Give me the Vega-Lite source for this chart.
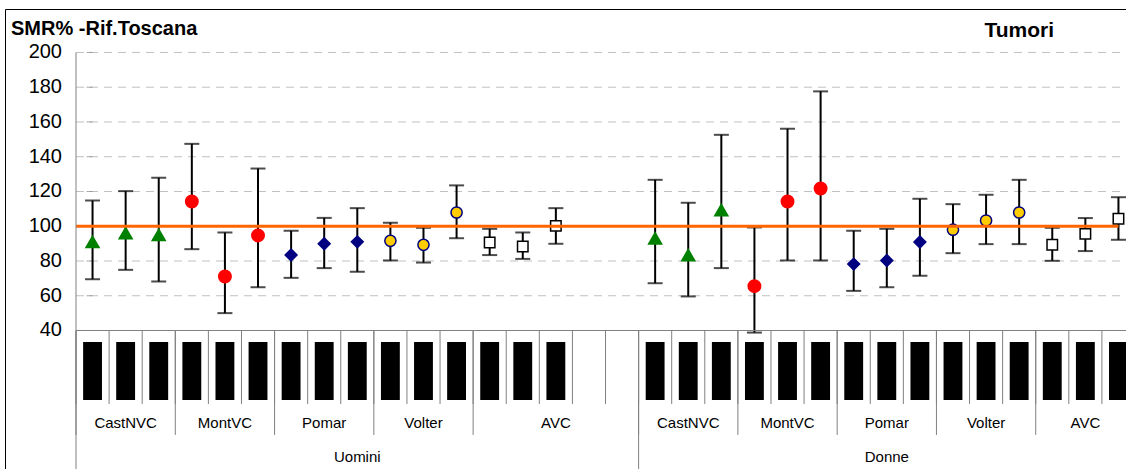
{
  "$schema": "https://vega.github.io/schema/vega-lite/v6.json",
  "width": 1121,
  "height": 460,
  "autosize": "none",
  "padding": {"left": 5, "top": 9, "right": 0, "bottom": 0},
  "background": "#ffffff",
  "config": {
    "view": {"stroke": "#000000", "strokeWidth": 1},
    "font": "Liberation Sans"
  },
  "title": {
    "text": "SMR% -Rif.Toscana",
    "anchor": "start",
    "frame": "group",
    "orient": "top",
    "offset": -46,
    "dx": 6,
    "baseline": "alphabetic",
    "font": "Liberation Sans",
    "fontSize": 20,
    "fontWeight": "bold",
    "color": "#000000"
  },
  "datasets": {
    "smr": [
      {"key": "U-CastNVC-1", "sex": "Uomini", "area": "CastNVC", "period": 1, "smr": 91, "lo": 69.5, "hi": 114.8},
      {"key": "U-CastNVC-2", "sex": "Uomini", "area": "CastNVC", "period": 2, "smr": 96, "lo": 74.9, "hi": 120.2},
      {"key": "U-CastNVC-3", "sex": "Uomini", "area": "CastNVC", "period": 3, "smr": 95, "lo": 68.2, "hi": 127.9},
      {"key": "U-MontVC-1", "sex": "Uomini", "area": "MontVC", "period": 1, "smr": 114.2, "lo": 86.8, "hi": 147.4},
      {"key": "U-MontVC-2", "sex": "Uomini", "area": "MontVC", "period": 2, "smr": 71.1, "lo": 50, "hi": 96.4},
      {"key": "U-MontVC-3", "sex": "Uomini", "area": "MontVC", "period": 3, "smr": 94.7, "lo": 64.9, "hi": 133.2},
      {"key": "U-Pomar-1", "sex": "Uomini", "area": "Pomar", "period": 1, "smr": 83.4, "lo": 70.3, "hi": 97.4},
      {"key": "U-Pomar-2", "sex": "Uomini", "area": "Pomar", "period": 2, "smr": 89.9, "lo": 75.9, "hi": 104.8},
      {"key": "U-Pomar-3", "sex": "Uomini", "area": "Pomar", "period": 3, "smr": 91, "lo": 73.8, "hi": 110.4},
      {"key": "U-Volter-1", "sex": "Uomini", "area": "Volter", "period": 1, "smr": 91.6, "lo": 80.3, "hi": 102},
      {"key": "U-Volter-2", "sex": "Uomini", "area": "Volter", "period": 2, "smr": 89.3, "lo": 79.1, "hi": 99.1},
      {"key": "U-Volter-3", "sex": "Uomini", "area": "Volter", "period": 3, "smr": 107.9, "lo": 93.1, "hi": 123.5},
      {"key": "U-AVC-1", "sex": "Uomini", "area": "AVC", "period": 1, "smr": 90.6, "lo": 83.4, "hi": 98.5},
      {"key": "U-AVC-2", "sex": "Uomini", "area": "AVC", "period": 2, "smr": 88.3, "lo": 81.2, "hi": 96.4},
      {"key": "U-AVC-3", "sex": "Uomini", "area": "AVC", "period": 3, "smr": 100.2, "lo": 89.9, "hi": 110.4},
      {"key": "U-AVC-4", "sex": "Uomini", "area": "AVC", "period": 4, "smr": null, "lo": null, "hi": null},
      {"key": "U-AVC-5", "sex": "Uomini", "area": "AVC", "period": 5, "smr": null, "lo": null, "hi": null},
      {"key": "D-CastNVC-1", "sex": "Donne", "area": "CastNVC", "period": 1, "smr": 93, "lo": 67.2, "hi": 126.7},
      {"key": "D-CastNVC-2", "sex": "Donne", "area": "CastNVC", "period": 2, "smr": 83.4, "lo": 59.6, "hi": 113.5},
      {"key": "D-CastNVC-3", "sex": "Donne", "area": "CastNVC", "period": 3, "smr": 109.3, "lo": 75.9, "hi": 152.6},
      {"key": "D-MontVC-1", "sex": "Donne", "area": "MontVC", "period": 1, "smr": 65.5, "lo": 38.8, "hi": 99.3},
      {"key": "D-MontVC-2", "sex": "Donne", "area": "MontVC", "period": 2, "smr": 114.2, "lo": 80.3, "hi": 156.1},
      {"key": "D-MontVC-3", "sex": "Donne", "area": "MontVC", "period": 3, "smr": 121.7, "lo": 80.3, "hi": 177.6},
      {"key": "D-Pomar-1", "sex": "Donne", "area": "Pomar", "period": 1, "smr": 78.2, "lo": 62.8, "hi": 97.4},
      {"key": "D-Pomar-2", "sex": "Donne", "area": "Pomar", "period": 2, "smr": 80.3, "lo": 64.9, "hi": 98.5},
      {"key": "D-Pomar-3", "sex": "Donne", "area": "Pomar", "period": 3, "smr": 90.9, "lo": 71.5, "hi": 115.8},
      {"key": "D-Volter-1", "sex": "Donne", "area": "Volter", "period": 1, "smr": 98, "lo": 84.5, "hi": 112.7},
      {"key": "D-Volter-2", "sex": "Donne", "area": "Volter", "period": 2, "smr": 103.3, "lo": 89.7, "hi": 118.1},
      {"key": "D-Volter-3", "sex": "Donne", "area": "Volter", "period": 3, "smr": 107.9, "lo": 89.7, "hi": 126.7},
      {"key": "D-AVC-1", "sex": "Donne", "area": "AVC", "period": 1, "smr": 89.3, "lo": 80.1, "hi": 99.1},
      {"key": "D-AVC-2", "sex": "Donne", "area": "AVC", "period": 2, "smr": 95.6, "lo": 85.7, "hi": 104.7},
      {"key": "D-AVC-3", "sex": "Donne", "area": "AVC", "period": 3, "smr": 104.3, "lo": 92.2, "hi": 116.7}
    ],
    "groups": [
      {"area": "CastNVC", "key": "U-CastNVC-2"},
      {"area": "MontVC", "key": "U-MontVC-2"},
      {"area": "Pomar", "key": "U-Pomar-2"},
      {"area": "Volter", "key": "U-Volter-2"},
      {"area": "AVC", "key": "U-AVC-3"},
      {"area": "CastNVC", "key": "D-CastNVC-2"},
      {"area": "MontVC", "key": "D-MontVC-2"},
      {"area": "Pomar", "key": "D-Pomar-2"},
      {"area": "Volter", "key": "D-Volter-2"},
      {"area": "AVC", "key": "D-AVC-2"}
    ],
    "sexes": [
      {"sex": "Uomini", "key": "U-Pomar-3"},
      {"sex": "Donne", "key": "D-Pomar-2"}
    ],
    "yticks": [
      {"v": 40}, {"v": 60}, {"v": 80}, {"v": 100}, {"v": 120},
      {"v": 140}, {"v": 160}, {"v": 180}, {"v": 200}
    ]
  },
  "data": {"name": "smr"},
  "encoding": {
    "x": {
      "field": "key",
      "type": "nominal",
      "axis": null,
      "scale": {
        "type": "band",
        "range": [71, 1130],
        "paddingInner": 0,
        "paddingOuter": 0,
        "domain": [
          "U-CastNVC-1", "U-CastNVC-2", "U-CastNVC-3",
          "U-MontVC-1", "U-MontVC-2", "U-MontVC-3",
          "U-Pomar-1", "U-Pomar-2", "U-Pomar-3",
          "U-Volter-1", "U-Volter-2", "U-Volter-3",
          "U-AVC-1", "U-AVC-2", "U-AVC-3", "U-AVC-4", "U-AVC-5",
          "D-CastNVC-1", "D-CastNVC-2", "D-CastNVC-3",
          "D-MontVC-1", "D-MontVC-2", "D-MontVC-3",
          "D-Pomar-1", "D-Pomar-2", "D-Pomar-3",
          "D-Volter-1", "D-Volter-2", "D-Volter-3",
          "D-AVC-1", "D-AVC-2", "D-AVC-3"
        ]
      }
    }
  },
  "layer": [
    {
      "data": {"name": "yticks"},
      "mark": {"type": "rule", "color": "#c0c0c0", "strokeWidth": 1, "strokeDash": [8, 6]},
      "encoding": {
        "x": {"datum": "U-CastNVC-1", "type": "nominal", "bandPosition": 0, "axis": null},
        "x2": {"datum": "D-AVC-3", "bandPosition": 1},
        "y": {
          "field": "v",
          "type": "quantitative",
          "axis": null,
          "scale": {"domain": [-39.7, 225], "nice": false, "zero": false}
        }
      }
    },
    {
      "data": {"name": "yticks"},
      "mark": {"type": "tick", "color": "#808080", "thickness": 1, "size": 6, "xOffset": -3},
      "encoding": {
        "x": {"datum": "U-CastNVC-1", "type": "nominal", "bandPosition": 0, "axis": null},
        "y": {"field": "v", "type": "quantitative", "axis": null}
      }
    },
    {
      "data": {"name": "yticks"},
      "mark": {"type": "text", "font": "Liberation Sans", "fontSize": 20, "color": "#000000", "align": "right", "baseline": "middle", "dx": -14},
      "encoding": {
        "x": {"datum": "U-CastNVC-1", "type": "nominal", "bandPosition": 0, "axis": null},
        "y": {"field": "v", "type": "quantitative", "axis": null},
        "text": {"field": "v"}
      }
    },
    {
      "mark": {"type": "rule", "color": "#000000", "strokeWidth": 2},
      "encoding": {
        "y": {"field": "lo", "type": "quantitative", "axis": null},
        "y2": {"field": "hi"}
      }
    },
    {
      "mark": {"type": "tick", "color": "#000000", "thickness": 2, "size": 15},
      "encoding": {"y": {"field": "lo", "type": "quantitative", "axis": null}}
    },
    {
      "mark": {"type": "tick", "color": "#000000", "thickness": 2, "size": 15},
      "encoding": {"y": {"field": "hi", "type": "quantitative", "axis": null}}
    },
    {
      "mark": {"type": "point", "filled": true, "opacity": 1, "strokeWidth": 1.5},
      "encoding": {
        "y": {"field": "smr", "type": "quantitative", "axis": null},
        "shape": {
          "field": "area", "type": "nominal", "legend": null,
          "scale": {"domain": ["CastNVC", "MontVC", "Pomar", "Volter", "AVC"],
                    "range": ["triangle-up", "circle", "diamond", "circle", "square"]}
        },
        "fill": {
          "field": "area", "type": "nominal", "legend": null,
          "scale": {"domain": ["CastNVC", "MontVC", "Pomar", "Volter", "AVC"],
                    "range": ["#008000", "#ff0000", "#000080", "#ffcc00", "#ffffff"]}
        },
        "stroke": {
          "field": "area", "type": "nominal", "legend": null,
          "scale": {"domain": ["CastNVC", "MontVC", "Pomar", "Volter", "AVC"],
                    "range": ["#008000", "#ff0000", "#000080", "#000080", "#000000"]}
        },
        "size": {
          "field": "area", "type": "ordinal", "legend": null,
          "scale": {"domain": ["CastNVC", "MontVC", "Pomar", "Volter", "AVC"],
                    "range": [170, 110, 140, 200, 180]}
        }
      }
    },
    {
      "data": {"values": [{}]},
      "mark": {"type": "rule", "color": "#ff6600", "strokeWidth": 3},
      "encoding": {
        "x": {"datum": "U-CastNVC-1", "type": "nominal", "bandPosition": 0, "axis": null},
        "x2": {"datum": "D-AVC-3", "bandPosition": 0.5},
        "y": {"datum": 100, "type": "quantitative", "axis": null}
      }
    },
    {
      "data": {"values": [{}]},
      "mark": {"type": "rule", "color": "#808080", "strokeWidth": 1},
      "encoding": {
        "x": {"datum": "U-CastNVC-1", "type": "nominal", "bandPosition": 0, "axis": null},
        "x2": {"datum": "D-AVC-3", "bandPosition": 1},
        "y": {"datum": 40, "type": "quantitative", "axis": null}
      }
    },
    {
      "data": {"values": [{}]},
      "mark": {"type": "rule", "color": "#808080", "strokeWidth": 1},
      "encoding": {
        "x": {"datum": "U-CastNVC-1", "type": "nominal", "bandPosition": 0, "axis": null},
        "y": {"datum": 200, "type": "quantitative", "axis": null},
        "y2": {"datum": -39.7}
      }
    },
    {
      "mark": {"type": "rule", "color": "#808080", "strokeWidth": 1},
      "encoding": {
        "x": {"field": "key", "type": "nominal", "bandPosition": 0, "axis": null},
        "y": {"datum": 40, "type": "quantitative", "axis": null},
        "y2": {"datum": -2.3}
      }
    },
    {
      "transform": [{"filter": "datum.period == 1"}],
      "mark": {"type": "rule", "color": "#808080", "strokeWidth": 1},
      "encoding": {
        "x": {"field": "key", "type": "nominal", "bandPosition": 0, "axis": null},
        "y": {"datum": 40, "type": "quantitative", "axis": null},
        "y2": {"datum": -20.1}
      }
    },
    {
      "transform": [{"filter": "datum.key == 'D-CastNVC-1'"}],
      "mark": {"type": "rule", "color": "#808080", "strokeWidth": 1},
      "encoding": {
        "x": {"field": "key", "type": "nominal", "bandPosition": 0, "axis": null},
        "y": {"datum": 40, "type": "quantitative", "axis": null},
        "y2": {"datum": -39.7}
      }
    },
    {
      "transform": [{"filter": {"field": "smr", "valid": true}}],
      "mark": {"type": "bar", "color": "#000000", "width": {"band": 0.57}},
      "encoding": {
        "y": {"datum": 33.4, "type": "quantitative", "axis": null},
        "y2": {"datum": 0}
      }
    },
    {
      "data": {"name": "groups"},
      "mark": {"type": "text", "font": "Liberation Sans", "fontSize": 15, "color": "#000000", "baseline": "middle", "align": "center"},
      "encoding": {
        "text": {"field": "area"},
        "y": {"datum": -13.5, "type": "quantitative", "axis": null}
      }
    },
    {
      "data": {"name": "sexes"},
      "mark": {"type": "text", "font": "Liberation Sans", "fontSize": 15, "color": "#000000", "baseline": "middle", "align": "center"},
      "encoding": {
        "text": {"field": "sex"},
        "y": {"datum": -32.8, "type": "quantitative", "axis": null}
      }
    },
    {
      "data": {"values": [{}]},
      "mark": {"type": "text", "text": "Tumori", "font": "Liberation Sans", "fontSize": 21, "fontWeight": "bold", "color": "#000000", "baseline": "alphabetic", "align": "center"},
      "encoding": {
        "x": {"datum": "D-Volter-3", "type": "nominal", "axis": null},
        "y": {"datum": 209.1, "type": "quantitative", "axis": null}
      }
    }
  ]
}
